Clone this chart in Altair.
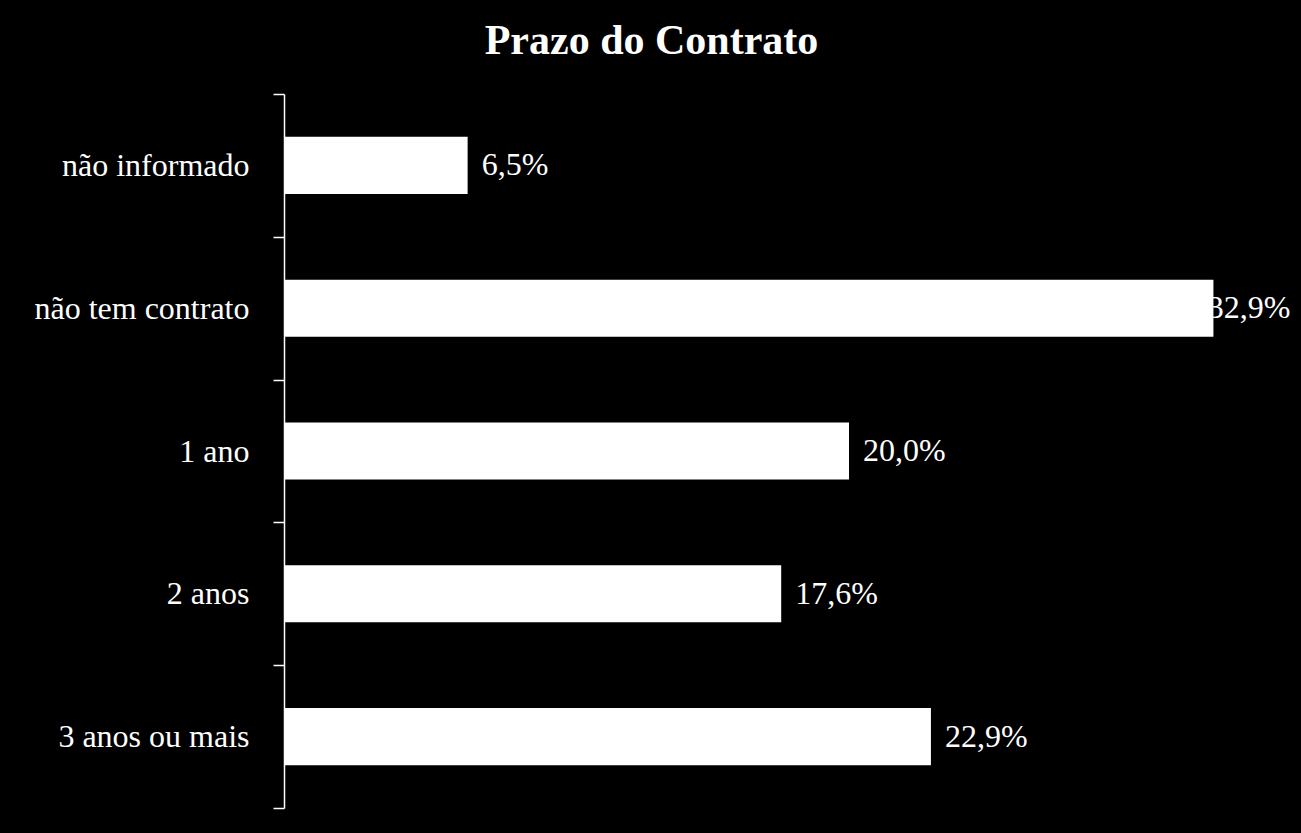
import altair as alt
import pandas as pd

categorias = ["não informado", "não tem contrato", "1 ano", "2 anos", "3 anos ou mais"]
valores = [6.5, 32.9, 20.0, 17.6, 22.9]
rotulos = ["6,5%", "32,9%", "20,0%", "17,6%", "22,9%"]

df = pd.DataFrame({"cat": categorias, "v": valores, "lab": rotulos})

FONT = "Liberation Serif"

y = alt.Y("cat:N", sort=categorias, title=None,
          scale=alt.Scale(paddingInner=0, paddingOuter=0),
          axis=alt.Axis(tickBand="extent", domainColor="white", tickColor="white",
                        tickSize=11, domainWidth=1.5, tickWidth=1.5,
                        labelColor="white", labelFont=FONT, labelFontSize=32,
                        labelPadding=24, labelLimit=400))

x = alt.X("v:Q", scale=alt.Scale(domain=[0, 36], nice=False), axis=None)

bars = alt.Chart(df).mark_bar(color="white", height={"band": 0.4}).encode(x=x, y=y)

text = alt.Chart(df).transform_calculate(
    pos="min(datum.v, 32.2)"
).mark_text(align="left", baseline="middle", dx=14, color="white",
            font=FONT, fontSize=32).encode(
    x=alt.X("pos:Q", scale=alt.Scale(domain=[0, 36], nice=False), axis=None),
    y=alt.Y("cat:N", sort=categorias),
    text="lab:N",
)

chart = (bars + text).properties(
    width=1017, height=714,
    background="black",
    padding={"left": 284, "top": 94, "right": 0, "bottom": 25},
    autosize=alt.AutoSizeParams(type="none"),
    title=alt.TitleParams("Prazo do Contrato", color="white", font=FONT,
                          fontSize=42, fontWeight="bold", anchor="middle",
                          dx=-141, offset=15),
).configure_view(stroke=None)

chart.save("out.html", embed_options={"renderer": "svg", "actions": False})
